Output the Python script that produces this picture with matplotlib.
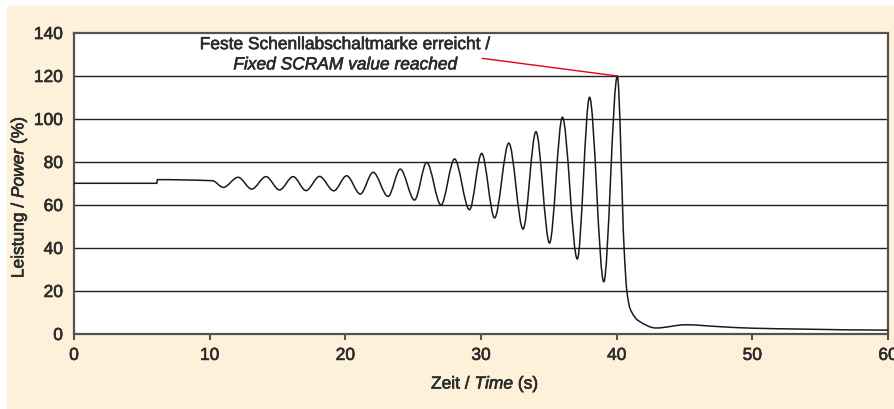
import numpy as np
import matplotlib.pyplot as plt
import matplotlib.patheffects as pe
from matplotlib.path import Path
from matplotlib.patches import PathPatch, Rectangle

# power trace: turning points plus a few points on the steep parts
time_s = [0.0, 6.1, 6.15, 10.2,
          11.0, 12.1, 13.1, 14.15, 15.15, 16.15, 17.1, 18.1, 19.15, 20.1,
          21.1, 22.05, 23.15, 24.05, 25.1, 26.0, 27.05, 28.05, 29.15, 30.05,
          31.0, 32.05, 33.1, 34.05, 35.05, 36.0, 37.1, 38.0, 39.05, 40.05,
          40.55, 40.75, 41.0, 41.6, 42.9, 45.1, 47.6, 50.0, 53.5, 60.0]
power_pct = [70.1, 70.1, 71.8, 71.3,
             68.2, 72.9, 67.4, 73.2, 67.0, 73.2, 66.7, 73.3, 66.6, 73.6,
             65.1, 75.2, 64.0, 76.7, 62.3, 79.8, 60.0, 81.4, 57.8, 84.0,
             54.0, 88.8, 48.8, 94.1, 42.3, 100.8, 34.9, 110.1, 24.3, 120.0,
             39.5, 20.0, 11.6, 6.2, 2.8, 4.3, 3.4, 2.7, 2.3, 1.8]

x_ticks = [0, 10, 20, 30, 40, 50, 60]
y_ticks = [0, 20, 40, 60, 80, 100, 120, 140]
grid_levels = [20, 40, 60, 80, 100, 120]

note_de = "Feste Schenllabschaltmarke erreicht /"
note_en = "Fixed SCRAM value reached"

BEIGE = "#fdf1d9"
DARK = "#2b2b2b"
FRAME = "#57524d"
FS = 12.5
# slight stroke to get the medium weight of the original lettering
MEDIUM = [pe.withStroke(linewidth=0.45, foreground=DARK)]


def smooth_path(x, y):
    """Monotone cubic (Fritsch-Carlson slopes) as a Bezier path through the points."""
    x = np.asarray(x, float)
    y = np.asarray(y, float)
    h = np.diff(x)
    d = np.diff(y) / h
    m = np.zeros_like(y)
    for i in range(1, len(y) - 1):
        if d[i - 1] * d[i] > 0:
            m[i] = 2.0 / (1.0 / d[i - 1] + 1.0 / d[i])
    verts = [(x[0], y[0])]
    codes = [Path.MOVETO]
    for i in range(len(h)):
        verts += [(x[i] + h[i] / 3, y[i] + m[i] * h[i] / 3),
                  (x[i + 1] - h[i] / 3, y[i + 1] - m[i + 1] * h[i] / 3),
                  (x[i + 1], y[i + 1])]
        codes += [Path.CURVE4] * 3
    return Path(verts, codes)


plt.rcParams['font.family'] = ['Liberation Sans', 'DejaVu Sans']
plt.rcParams['mathtext.fontset'] = 'custom'
plt.rcParams['mathtext.rm'] = 'Liberation Sans'
plt.rcParams['mathtext.it'] = 'Liberation Sans:italic'

fig = plt.figure(figsize=(8.95, 4.10), dpi=100, facecolor='white')
fig.patches.append(Rectangle((7 / 895, 0), 1 - 7 / 895, 403 / 410,
                             transform=fig.transFigure, color=BEIGE, zorder=-10))

ax = fig.add_axes([74 / 895, 75 / 410, 814 / 895, 301 / 410])
ax.set_facecolor('white')

for lvl in grid_levels:
    ax.axhline(lvl, color='#222222', lw=1.0, zorder=1)

ax.add_patch(PathPatch(smooth_path(time_s, power_pct), fill=False,
                       edgecolor='#1a1a1a', lw=1.1, zorder=3))

# SCRAM marker annotation
peak = int(np.argmax(power_pct))
ax.plot([30.1, time_s[peak]], [128.2, power_pct[peak]], color='#e2001a', lw=1.0, zorder=4)
ax.text(20.0, 134.6, note_de, ha='center', va='center', fontsize=FS, color=DARK,
        path_effects=MEDIUM)
ax.text(20.0, 125.2, note_en, ha='center', va='center', fontsize=FS, color=DARK,
        style='italic', path_effects=MEDIUM)

ax.set_xlim(0, 60)
ax.set_ylim(0, 140)
ax.set_xticks(x_ticks)
ax.set_yticks(y_ticks)
ax.tick_params(axis='x', direction='out', length=4, width=1.5, color=FRAME,
               labelsize=FS, labelcolor=DARK, pad=6)
ax.tick_params(axis='y', length=0, labelsize=FS, labelcolor=DARK, pad=8)
for lab in ax.get_xticklabels() + ax.get_yticklabels():
    lab.set_path_effects(MEDIUM)

for side in ['left', 'right', 'top', 'bottom']:
    ax.spines[side].set_color(FRAME)
    ax.spines[side].set_linewidth(1.6)

ax.set_xlabel("Zeit / $\\it{Time}$ (s)", fontsize=FS, color=DARK, path_effects=MEDIUM)
ax.set_ylabel("Leistung / $\\it{Power}$ (%)", fontsize=FS, color=DARK, path_effects=MEDIUM)
ax.xaxis.set_label_coords(0.505, -0.135)
ax.yaxis.set_label_coords(-0.056, 0.455)

fig.savefig("out.png", dpi=100, facecolor=fig.get_facecolor())
